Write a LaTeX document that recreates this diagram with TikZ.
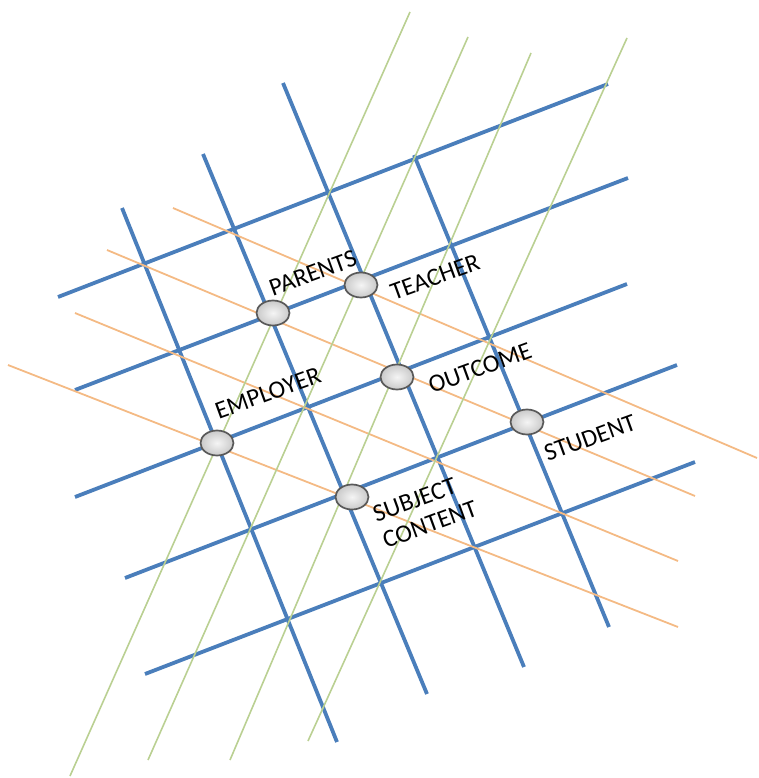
\documentclass[tikz,border=0pt]{standalone}
\usepackage{fontspec}
\setmainfont{Carlito}
\usetikzlibrary{shapes.geometric}

\definecolor{gridblue}{RGB}{74,126,187}
\definecolor{gridorange}{RGB}{244,186,132}
\definecolor{gridgreen}{RGB}{186,208,146}

\begin{document}
\begin{tikzpicture}[
    x=1pt, y=-1pt,
    bluegrid/.style={line width=3.8pt, gridblue},
    orangegrid/.style={line width=1.8pt, gridorange},
    greengrid/.style={line width=1.6pt, gridgreen},
    hub/.style={ellipse, draw=black!65, line width=1.7pt,
        minimum width=33pt, minimum height=25pt, inner sep=0pt,
        inner color=gray!8, outer color=gray!42},
    tag/.style={font=\fontsize{25}{28}\selectfont, rotate=20,
        inner sep=0pt, text=black},
]
\useasboundingbox (0,0) rectangle (758,778);

% =============================================================================
% Grid lines
% =============================================================================

% --- Blue, shallow ---
\foreach \xa/\ya/\xb/\yb in {58/297/608/84, 75/390/628/178, 75/497/627/284,
                             125/578/677/365, 145/674/695/462} {
    \draw[bluegrid] (\xa,\ya) -- (\xb,\yb);
}

% --- Blue, steep ---
\foreach \xa/\ya/\xb/\yb in {122/208/337/742, 203/154/427/694,
                             283/83/524/667, 414/155/609/627} {
    \draw[bluegrid] (\xa,\ya) -- (\xb,\yb);
}

% --- Orange ---
\foreach \xa/\ya/\xb/\yb in {173/208/757/458, 107/250/695/496,
                             75/313/678/561, 8/365/678/627} {
    \draw[orangegrid] (\xa,\ya) -- (\xb,\yb);
}

% --- Green ---
\foreach \xa/\ya/\xb/\yb in {70/776/410/12, 148/760/468/37,
                             230/760/531/53, 308/741/627/38} {
    \draw[greengrid] (\xa,\ya) -- (\xb,\yb);
}

% =============================================================================
% Stakeholders
% =============================================================================
\node[hub] (parents)  at (273,313) {};
\node[hub] (teacher)  at (361,285) {};
\node[hub] (outcome)  at (397,377) {};
\node[hub] (student)  at (527,422) {};
\node[hub] (employer) at (217,443) {};
\node[hub] (subject)  at (352,497) {};

\node[tag] (parents-lbl)  at (313,273) {PARENTS};
\node[tag] (teacher-lbl)  at (435,277) {TEACHER};
\node[tag] (outcome-lbl)  at (480,368) {OUTCOME};
\node[tag] (student-lbl)  at (590,438) {STUDENT};
\node[tag] (employer-lbl) at (268,393) {EMPLOYER};
\node[tag, align=left] (subject-lbl) at (425,511) {SUBJECT\\CONTENT};

\end{tikzpicture}
\end{document}
